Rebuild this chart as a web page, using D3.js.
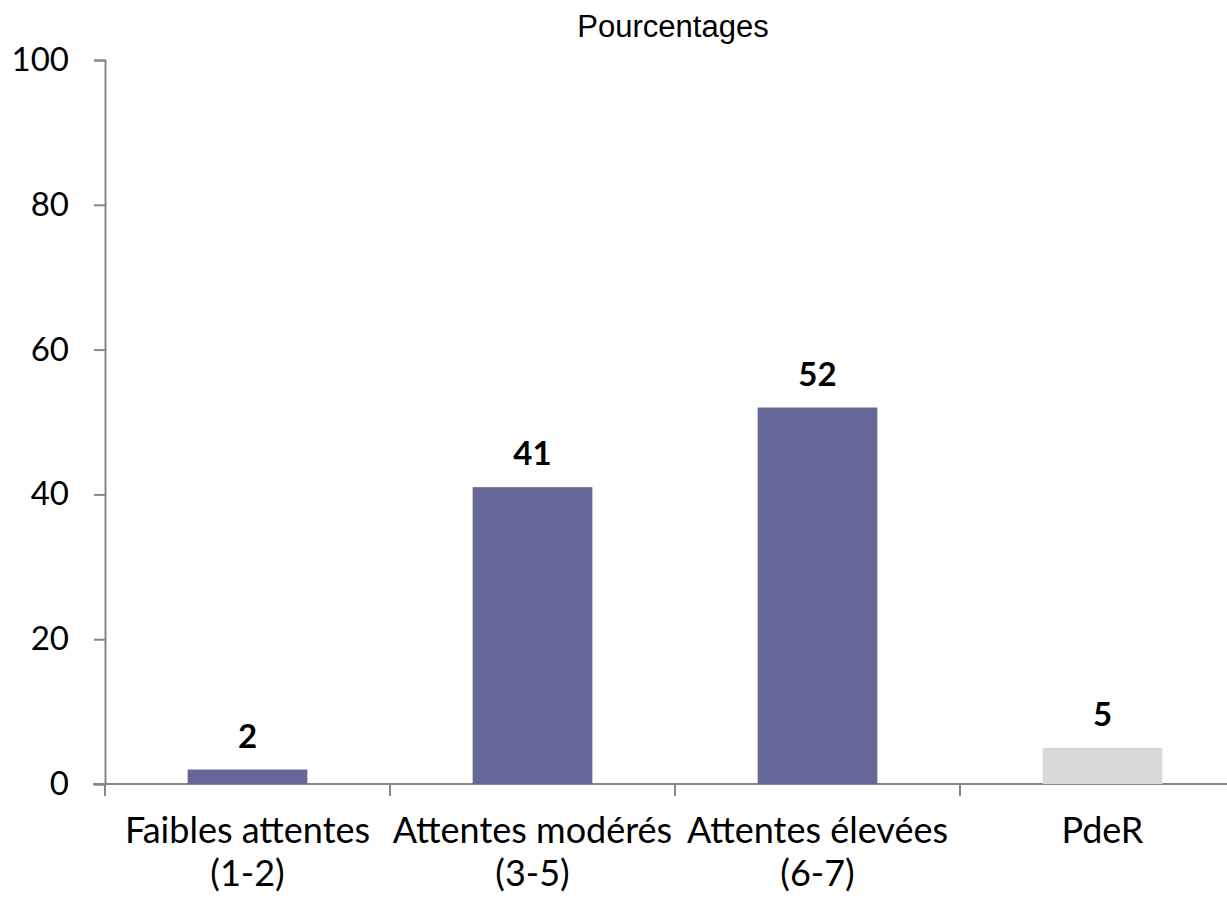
<!DOCTYPE html>
<html><head><meta charset="utf-8">
<script src="https://cdn.jsdelivr.net/npm/d3@7"></script>
<style>body{margin:0;background:#fff}svg{display:block}</style>
</head><body>
<svg id="c" width="1227" height="898"></svg>
<script>
const categories = [["Faibles attentes","(1-2)"],["Attentes modérés","(3-5)"],["Attentes élevées","(6-7)"],["PdeR",""]];
const values = [2, 41, 52, 5];
const barColors = ["#666699","#666699","#666699","#d9d9d9"];
const yTicks = [0, 20, 40, 60, 80, 100];
const title = "Pourcentages";

const svg = d3.select("#c");
const font = "Lato, 'Open Sans', sans-serif";
const axisColor = "#868686";
const y = d3.scaleLinear().domain([0,100]).range([784,60]);
const x = d3.scaleBand().domain(d3.range(categories.length)).range([105,1245]).paddingInner(0.58).paddingOuter(0.29);
const step = x.step();

// title
svg.append("text").attr("x",673).attr("y",37).attr("text-anchor","middle")
  .style("font-family","Arial, 'Liberation Sans', sans-serif").style("font-size","31px").attr("fill","#000").text(title);

// y axis
const ya = svg.append("g").attr("transform","translate(105,0)")
  .call(d3.axisLeft(y).tickValues(yTicks).tickSize(11).tickPadding(25));
ya.select(".domain").attr("stroke",axisColor).attr("stroke-width",2);
ya.selectAll(".tick line").attr("stroke",axisColor).attr("stroke-width",2);
ya.selectAll(".tick text").style("font-family",font).style("font-size","33px").attr("fill","#000");

// x axis line
svg.append("line").attr("x1",93).attr("x2",1227).attr("y1",y(0)).attr("y2",y(0)).attr("stroke",axisColor).attr("stroke-width",2);
// x ticks at band boundaries
const bounds = d3.range(categories.length+1).map(i => 105 + i*step);
svg.selectAll(".xt").data(bounds).join("line").attr("class","xt")
  .attr("x1",d=>d).attr("x2",d=>d).attr("y1",y(0)).attr("y2",y(0)+12)
  .attr("stroke",axisColor).attr("stroke-width",2);

// bars
svg.selectAll(".bar").data(values).join("rect").attr("class","bar")
  .attr("x",(d,i)=>x(i)).attr("width",x.bandwidth())
  .attr("y",d=>y(d)).attr("height",d=>y(0)-y(d))
  .attr("fill",(d,i)=>barColors[i]);

// data labels
svg.selectAll(".lbl").data(values).join("text").attr("class","lbl")
  .attr("x",(d,i)=>x(i)+x.bandwidth()/2).attr("y",d=>y(d)-22)
  .attr("text-anchor","middle").style("font-family",font).style("font-size","33px").style("font-weight","bold")
  .attr("fill","#000").text(d=>d);

// category labels
const cl = svg.selectAll(".cat").data(categories).join("text").attr("class","cat")
  .attr("text-anchor","middle").style("font-family",font).style("font-size","36px").attr("fill","#000");
cl.each(function(d,i){
  const t = d3.select(this);
  const cx = x(i)+x.bandwidth()/2;
  t.append("tspan").attr("x",cx).attr("y",843).text(d[0]);
  if(d[1]) t.append("tspan").attr("x",cx).attr("y",886).text(d[1]);
});
</script>
</body></html>
